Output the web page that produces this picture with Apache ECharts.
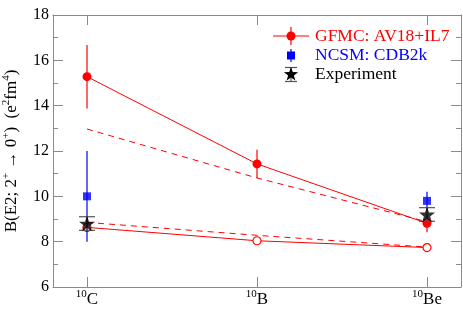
<!DOCTYPE html>
<html><head><meta charset="utf-8">
<script src="https://cdn.jsdelivr.net/npm/echarts@6/dist/echarts.min.js"></script>
<style>html,body{margin:0;padding:0;background:#fff}#c{width:463px;height:309px}</style>
</head><body><div id="c"></div>
<script>
// ---- data ----
const isoMass = ['10', '10', '10'];
const isoElem = ['C', 'B', 'Be'];
const catPos = [0, 1, 2];
const yTicks = [6, 8, 10, 12, 14, 16, 18];
const gfmc = [15.28, 11.43, 8.81];
const gfmcErr = [1.4, 0.62, 0.4];
const gfmcDash = [12.97, 10.81, 8.88];
const gfmcOpen = [8.63, 8.04, 7.74];
const gfmcOpenDash = [8.85, 8.28, 7.76];
const ncsm = [10.0, null, 9.8];
const ncsmErr = [2.0, null, 0.4];
const expt = [8.8, null, 9.2];
const exptErr = [0.3, null, 0.3];
const legendNames = ['GFMC: AV18+IL7', 'NCSM: CDB2k', 'Experiment'];

const RED = '#ff0000', BLUE = '#0000ff', BLACK = '#000000', AXIS = '#8a8a8a';
const FONT = '"Liberation Serif", "DejaVu Serif", serif';
const STAR = 'path://M50,0 L61.8,35.3 L98.1,35.3 L68.8,57.1 L79.4,91.9 L50,70.6 L20.6,91.9 L31.2,57.1 L1.9,35.3 L38.2,35.3 Z';

function starPoints(cx, cy, R, r) {
  const p = [];
  for (let k = 0; k < 10; k++) {
    const a = -Math.PI / 2 + k * Math.PI / 5;
    const rad = k % 2 === 0 ? R : r;
    p.push([cx + rad * Math.cos(a), cy + rad * Math.sin(a)]);
  }
  return p;
}
function pts(vals) {
  const out = [];
  vals.forEach((v, i) => { if (v != null) out.push([catPos[i], v]); });
  return out;
}
function errSeries(vals, errs, color, cap, z) {
  const data = [];
  vals.forEach((v, i) => { if (v != null) data.push([catPos[i], v - errs[i], v + errs[i]]); });
  return {
    type: 'custom', data, z, silent: true,
    encode: { x: 0, y: [1, 2] },
    renderItem(params, api) {
      const x = api.value(0);
      const lo = api.coord([x, api.value(1)]);
      const hi = api.coord([x, api.value(2)]);
      const st = { stroke: color, lineWidth: 1.2 };
      const ch = [{ type: 'line', shape: { x1: lo[0], y1: lo[1], x2: hi[0], y2: hi[1] }, style: st }];
      if (cap) {
        ch.push({ type: 'line', shape: { x1: lo[0] - 8, y1: lo[1], x2: lo[0] + 8, y2: lo[1] }, style: st });
        ch.push({ type: 'line', shape: { x1: hi[0] - 8, y1: hi[1], x2: hi[0] + 8, y2: hi[1] }, style: st });
      }
      return { type: 'group', children: ch };
    }
  };
}

const chart = echarts.init(document.getElementById('c'), null, { renderer: 'canvas' });

const xCommon = {
  type: 'value', min: -0.2, max: 2.2,
  axisLine: { show: true, onZero: false, lineStyle: { color: AXIS, width: 1 } },
  splitLine: { show: false }
};
const yCommon = {
  type: 'value', min: 6, max: 18, interval: 2,
  axisLine: { show: true, onZero: false, lineStyle: { color: AXIS, width: 1 } },
  axisTick: { show: true, inside: true, length: 10, lineStyle: { color: AXIS } },
  minorTick: { show: true, splitNumber: 2, length: 5, lineStyle: { color: AXIS } },
  splitLine: { show: false }
};

const option = {
  animation: false,
  backgroundColor: '#fff',
  grid: { left: 53, right: 2, top: 15, bottom: 22, containLabel: false, outerBoundsMode: 'none' },
  xAxis: [
    Object.assign({}, xCommon, {
      position: 'bottom',
      axisTick: { show: true, inside: true, length: 10, customValues: catPos, lineStyle: { color: AXIS } },
      axisLabel: {
        show: true, customValues: catPos, margin: 2,
        formatter: v => { const i = catPos.indexOf(Math.round(v)); return i < 0 ? '' : '{s|' + isoMass[i] + '}{m|' + isoElem[i] + '}'; },
        rich: {
          s: { fontFamily: FONT, fontSize: 11, color: BLACK, lineHeight: 10, verticalAlign: 'top' },
          m: { fontFamily: FONT, fontSize: 17, color: BLACK, lineHeight: 21 }
        }
      }
    }),
    Object.assign({}, xCommon, {
      position: 'top',
      axisTick: { show: true, inside: true, length: 10, customValues: catPos, lineStyle: { color: AXIS } },
      axisLabel: { show: false }
    })
  ],
  yAxis: [
    Object.assign({}, yCommon, {
      position: 'left',
      axisLabel: { show: true, fontFamily: FONT, fontSize: 16, color: BLACK, margin: 4,
        formatter: v => yTicks.indexOf(v) >= 0 ? String(v) : '' },
      name: 'B(E2; 2{s|+} \u2192 0{s|+})  (e{s|2}fm{s|4})',
      nameLocation: 'middle', nameGap: 25, nameRotate: 90,
      nameTextStyle: {
        fontFamily: FONT, fontSize: 17, color: BLACK, lineHeight: 21,
        rich: { s: { fontFamily: FONT, fontSize: 11, color: BLACK, lineHeight: 10, verticalAlign: 'top' } }
      }
    }),
    Object.assign({}, yCommon, { position: 'right', axisLabel: { show: false } })
  ],
  series: [
    errSeries(gfmc, gfmcErr, RED, false, 2),
    { type: 'line', data: pts(gfmc), symbol: 'circle', symbolSize: 9, z: 3,
      lineStyle: { color: RED, width: 1 }, itemStyle: { color: RED } },
    { type: 'line', data: pts(gfmcDash), symbol: 'none', z: 2,
      lineStyle: { color: RED, width: 1, type: [6, 5] } },
    { type: 'line', data: pts(gfmcOpen), symbol: 'circle', symbolSize: 8, z: 3,
      lineStyle: { color: RED, width: 1 }, itemStyle: { color: '#fff', borderColor: RED, borderWidth: 1.2 } },
    { type: 'line', data: pts(gfmcOpenDash), symbol: 'none', z: 2,
      lineStyle: { color: RED, width: 1, type: [6, 5] } },
    errSeries(ncsm, ncsmErr, BLUE, false, 4),
    { type: 'scatter', data: pts(ncsm), symbol: 'rect', symbolSize: 8, z: 5, itemStyle: { color: BLUE } },
    errSeries(expt, exptErr, '#555555', true, 6),
    { type: 'scatter', data: pts(expt), symbol: STAR, symbolSize: 16, z: 7, itemStyle: { color: BLACK } }
  ],
  graphic: [
    { type: 'line', shape: { x1: 273, y1: 36, x2: 309, y2: 36 }, style: { stroke: RED, lineWidth: 1 } },
    { type: 'line', shape: { x1: 291, y1: 27, x2: 291, y2: 45 }, style: { stroke: RED, lineWidth: 1.2 } },
    { type: 'circle', shape: { cx: 291, cy: 36, r: 4.5 }, style: { fill: RED } },
    { type: 'text', x: 315, y: 36, style: { text: legendNames[0], fill: RED, font: '17.5px ' + FONT, verticalAlign: 'middle' } },
    { type: 'line', shape: { x1: 291, y1: 49, x2: 291, y2: 62 }, style: { stroke: BLUE, lineWidth: 1.2 } },
    { type: 'rect', shape: { x: 287, y: 51.5, width: 8, height: 8 }, style: { fill: BLUE } },
    { type: 'text', x: 315, y: 55, style: { text: legendNames[1], fill: BLUE, font: '17.5px ' + FONT, verticalAlign: 'middle' } },
    { type: 'line', shape: { x1: 291, y1: 67.5, x2: 291, y2: 81.5 }, style: { stroke: '#555', lineWidth: 1.2 } },
    { type: 'line', shape: { x1: 285, y1: 67.5, x2: 297, y2: 67.5 }, style: { stroke: '#555', lineWidth: 1.2 } },
    { type: 'line', shape: { x1: 285, y1: 81.5, x2: 297, y2: 81.5 }, style: { stroke: '#555', lineWidth: 1.2 } },
    { type: 'polygon', shape: { points: starPoints(291, 74.5, 7.5, 3) }, style: { fill: BLACK } },
    { type: 'text', x: 315, y: 74, style: { text: legendNames[2], fill: BLACK, font: '17.5px ' + FONT, verticalAlign: 'middle' } }
  ]
};
chart.setOption(option);
</script>
</body></html>
